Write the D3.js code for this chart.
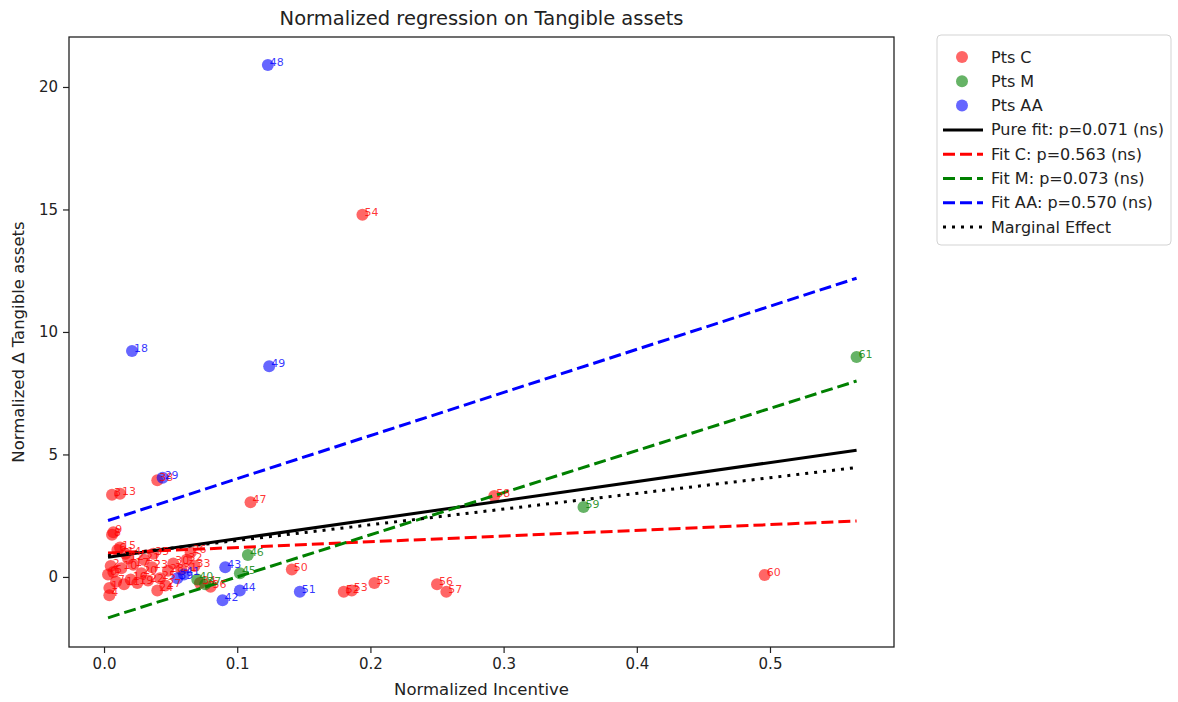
<!DOCTYPE html>
<html>
<head>
<meta charset="utf-8">
<script src="https://cdn.jsdelivr.net/npm/d3@7"></script>
<style>
  html, body { margin: 0; padding: 0; background: #fff; }
  svg { display: block; font-family: "DejaVu Sans", sans-serif; }
</style>
</head>
<body>
<svg id="chart" width="1178" height="702"></svg>
<script>
// Group C observations: row id, normalized incentive, normalized change in tangible assets
const idsC = [0,1,2,3,4,5,6,7,8,9,10,11,12,13,14,15,16,17,19,20,21,22,23,24,25,26,27,28,30,31,32,33,34,35,36,38,47,50,52,53,54,55,56,57,58,60];
const xC = [0.003,0.004,0.005,0.006,0.004,0.007,0.010,0.009,0.006,0.007,0.013,0.015,0.018,0.012,0.016,0.012,0.020,0.022,0.025,0.028,0.030,0.033,0.036,0.040,0.042,0.065,0.046,0.048,0.052,0.058,0.062,0.068,0.072,0.037,0.080,0.040,0.110,0.141,0.180,0.186,0.194,0.203,0.250,0.257,0.293,0.496];
const yC = [0.10,-0.45,0.45,3.35,-0.75,0.20,1.10,-0.20,1.72,1.82,0.35,-0.30,0.75,3.40,0.95,1.20,-0.10,0.50,-0.25,0.15,0.70,-0.15,0.40,-0.55,-0.05,1.00,-0.35,0.25,0.55,0.30,0.70,0.45,-0.25,0.95,-0.40,3.95,3.05,0.30,-0.60,-0.55,14.78,-0.25,-0.30,-0.60,3.30,0.08];

// Group M observations
const idsM = [37,40,45,46,59,61];
const xM = [0.076,0.070,0.102,0.108,0.360,0.565];
const yM = [-0.30,-0.10,0.15,0.90,2.85,8.98];

// Group AA observations
const idsAA = [18,29,39,41,42,43,44,48,49,51];
const xAA = [0.021,0.044,0.055,0.060,0.089,0.091,0.102,0.123,0.124,0.147];
const yAA = [9.22,4.05,-0.05,0.10,-0.95,0.40,-0.55,20.90,8.60,-0.60];

// Fitted lines (intercept, slope) and their legend texts
const fitNames = ["Pure fit: p=0.071 (ns)", "Fit C: p=0.563 (ns)", "Fit M: p=0.073 (ns)", "Fit AA: p=0.570 (ns)", "Marginal Effect"];
const fitIntercepts = [0.78, 0.97, -1.72, 2.25, 0.85];
const fitSlopes = [7.78, 2.33, 17.2, 17.6, 6.4];

const xTicks = [0.0, 0.1, 0.2, 0.3, 0.4, 0.5];
const yTicks = [0, 5, 10, 15, 20];

const pointNames = ["Pts C", "Pts M", "Pts AA"];

// ---- layout ----
const svg = d3.select("#chart");
const plot = { left: 69, top: 37, right: 894, bottom: 647 };

const x = d3.scaleLinear().domain([-0.0263, 0.5931]).range([plot.left, plot.right]);
const y = d3.scaleLinear().domain([-2.86, 22.04]).range([plot.bottom, plot.top]);

const groups = [
  { ids: idsC, xs: xC, ys: yC, fill: "rgba(255,0,0,0.6)", text: "red" },
  { ids: idsM, xs: xM, ys: yM, fill: "rgba(0,128,0,0.6)", text: "green" },
  { ids: idsAA, xs: xAA, ys: yAA, fill: "rgba(0,0,255,0.6)", text: "blue" }
];

const lineStyles = [
  { color: "#000", dash: null, width: 3 },
  { color: "red", dash: "12,5", width: 3 },
  { color: "green", dash: "12,5", width: 3 },
  { color: "blue", dash: "12,5", width: 3 },
  { color: "#000", dash: "3,6", width: 3 }
];

// ---- points ----
const gPts = svg.append("g");
groups.forEach(g => {
  gPts.append("g").selectAll("circle")
    .data(g.ids.map((id, i) => ({ id, x: g.xs[i], y: g.ys[i] })))
    .join("circle")
    .attr("cx", d => x(d.x))
    .attr("cy", d => y(d.y))
    .attr("r", 6)
    .attr("fill", g.fill);
});

// ---- fitted lines over the observed incentive range ----
const allX = xC.concat(xM, xAA);
const xr = d3.extent(allX);
const gLines = svg.append("g");
fitNames.forEach((name, k) => {
  const st = lineStyles[k];
  const seg = xr.map(v => [v, fitIntercepts[k] + fitSlopes[k] * v]);
  gLines.append("path")
    .attr("d", d3.line().x(d => x(d[0])).y(d => y(d[1]))(seg))
    .attr("fill", "none")
    .attr("stroke", st.color)
    .attr("stroke-width", st.width)
    .attr("stroke-dasharray", st.dash);
});

// ---- point labels ----
const gLab = svg.append("g");
groups.forEach(g => {
  gLab.append("g").selectAll("text")
    .data(g.ids.map((id, i) => ({ id, x: g.xs[i], y: g.ys[i] })))
    .join("text")
    .attr("x", d => x(d.x) + 2)
    .attr("y", d => y(d.y) + 1)
    .attr("font-size", 11)
    .attr("fill", g.text)
    .attr("fill-opacity", 0.8)
    .text(d => d.id);
});

// ---- axes ----
const xAxis = d3.axisBottom(x).tickValues(xTicks).tickFormat(d3.format(".1f")).tickSize(6).tickPadding(5);
const yAxis = d3.axisLeft(y).tickValues(yTicks).tickFormat(d3.format("d")).tickSize(6).tickPadding(5);

const gx = svg.append("g").attr("transform", `translate(0,${plot.bottom})`).call(xAxis);
const gy = svg.append("g").attr("transform", `translate(${plot.left},0)`).call(yAxis);
[gx, gy].forEach(g => {
  g.select(".domain").remove();
  g.selectAll("line").attr("stroke", "#222").attr("stroke-width", 1.2);
  g.selectAll("text").attr("font-size", 15).attr("fill", "#222").attr("font-family", "DejaVu Sans");
});

// frame
svg.append("rect")
  .attr("x", plot.left).attr("y", plot.top)
  .attr("width", plot.right - plot.left).attr("height", plot.bottom - plot.top)
  .attr("fill", "none").attr("stroke", "#222").attr("stroke-width", 1.3);

// ---- titles ----
svg.append("text")
  .attr("x", (plot.left + plot.right) / 2).attr("y", 25)
  .attr("text-anchor", "middle").attr("font-size", 19.5).attr("fill", "#222")
  .text("Normalized regression on Tangible assets");

svg.append("text")
  .attr("x", (plot.left + plot.right) / 2).attr("y", 695)
  .attr("text-anchor", "middle").attr("font-size", 16.5).attr("fill", "#222")
  .text("Normalized Incentive");

svg.append("text")
  .attr("transform", `translate(24,${(plot.top + plot.bottom) / 2}) rotate(-90)`)
  .attr("text-anchor", "middle").attr("font-size", 16.5).attr("fill", "#222")
  .text("Normalized Δ Tangible assets");

// ---- legend ----
const leg = svg.append("g").attr("transform", "translate(937,35)");
leg.append("rect")
  .attr("width", 234).attr("height", 210).attr("rx", 4)
  .attr("fill", "#fff").attr("fill-opacity", 0.8)
  .attr("stroke", "#d3d3d3").attr("stroke-width", 1);

const rowH = 24.3;
pointNames.forEach((name, i) => {
  const cy = 22 + i * rowH;
  leg.append("circle").attr("cx", 25).attr("cy", cy).attr("r", 6).attr("fill", groups[i].fill);
  leg.append("text").attr("x", 54).attr("y", cy + 5.5).attr("font-size", 16).attr("fill", "#222").text(name);
});
fitNames.forEach((name, k) => {
  const cy = 22 + (k + 3) * rowH;
  const st = lineStyles[k];
  leg.append("line")
    .attr("x1", 6).attr("x2", 46).attr("y1", cy).attr("y2", cy)
    .attr("stroke", st.color).attr("stroke-width", st.width)
    .attr("stroke-dasharray", st.dash);
  leg.append("text").attr("x", 54).attr("y", cy + 5.5).attr("font-size", 16).attr("fill", "#222").text(name);
});
</script>
</body>
</html>
